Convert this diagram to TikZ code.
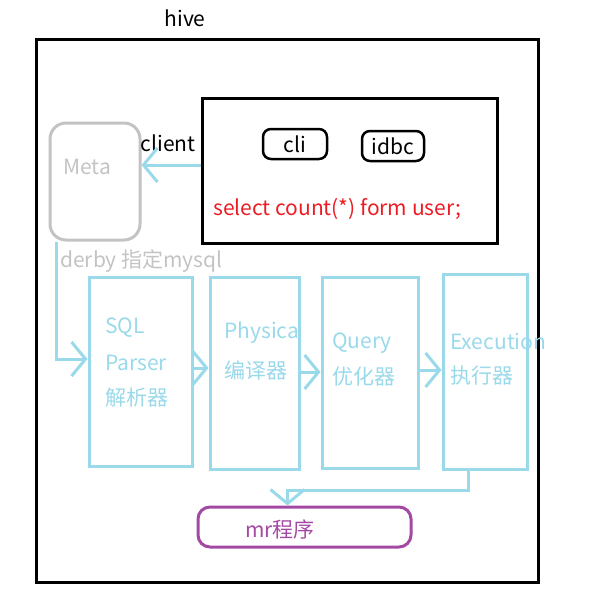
\documentclass[tikz,border=0pt]{standalone}
\usepackage{fontspec}
\setmainfont{Noto Sans CJK SC}
\usetikzlibrary{arrows.meta}
\definecolor{skyline}{RGB}{153,217,234}
\definecolor{metagray}{RGB}{195,195,195}
\definecolor{mrpurple}{RGB}{163,73,164}
\definecolor{sqlred}{RGB}{237,28,36}
\tikzset{
stagebox/.style={draw=skyline, line width=3pt, minimum width=#1, inner sep=0pt},
stagetext/.style={text=skyline, anchor=west, inner sep=0pt},
flow/.style={draw=skyline, line width=3pt, -{Straight Barb[length=14pt,width=34pt,line width=3pt]}},
tool/.style={draw, line width=2.5pt, rounded corners=8pt, minimum height=30pt, inner sep=0pt}
}

\begin{document}
\begin{tikzpicture}[x=1pt, y=-1pt, font=\fontsize{21}{24}\selectfont]
	\useasboundingbox (0,0) rectangle (592,607);
	\node at (185,18) {hive};
	\node[draw, line width=3pt, minimum width=502pt, minimum height=542pt] (hive) at (287,311) {};
	% client side
	\node[draw, line width=3pt, minimum width=295pt, minimum height=144pt] (client) at (349.5,171) {};
	\node[tool, minimum width=64pt] (cli) at (295,144) {cli};
	\node[tool, minimum width=62pt] (jdbc) at (393,146) {idbc};
	\node[text=sqlred, anchor=west, inner sep=0pt] (query) at (213,209) {select count(*) form user;};
	\node[draw=metagray, line width=3pt, rounded corners=16pt, minimum width=90pt, minimum height=117pt] (meta) at (95,181.5) {};
	\node[text=metagray] at (87,167) {Meta};
	\node at (168,143) {client};
	\node[text=metagray, anchor=west, inner sep=0pt] at (60,261) {derby 指定mysql};
	\draw[flow] (client.west |- 0,165) -- (meta.east |- 0,165);
	% stages
	\node[stagebox=103pt, minimum height=189pt] (sql) at (140.5,371.5) {};
	\node[stagebox=89pt, minimum height=192pt] (phys) at (254.5,373) {};
	\node[stagebox=96pt, minimum height=191pt] (opt) at (370,372.5) {};
	\node[stagebox=84pt, minimum height=195pt] (exec) at (485,371.5) {};
	\node[stagetext] at (105,328) {SQL};
	\node[stagetext] at (105,363) {Parser};
	\node[stagetext] at (105,398) {解析器};
	\node[stagetext] at (224,333) {Physica};
	\node[stagetext] at (224,370) {编译器};
	\node[stagetext] at (332,343) {Query};
	\node[stagetext] at (332,377) {优化器};
	\node[stagetext] at (450,341) {Execution};
	\node[stagetext] at (450,376) {执行器};
	\draw[flow] ([xshift=8pt]meta.south west) |- (sql.west |- 0,359);
	\draw[flow] (sql.east |- 0,368) -- (phys.west |- 0,368);
	\draw[flow] (phys.east |- 0,372) -- (opt.west |- 0,372);
	\draw[flow] (opt.east |- 0,370) -- (exec.west |- 0,370);
	% output
	\node[draw=mrpurple, line width=3pt, rounded corners=12pt, minimum width=213pt, minimum height=40pt] (mr) at (304.5,527) {};
	\node[text=mrpurple] at (280,529) {mr程序};
	\draw[flow] ([xshift=-17pt]exec.south) -- ++(0,20) -| ([xshift=-17pt]mr.north);
\end{tikzpicture}
\end{document}
